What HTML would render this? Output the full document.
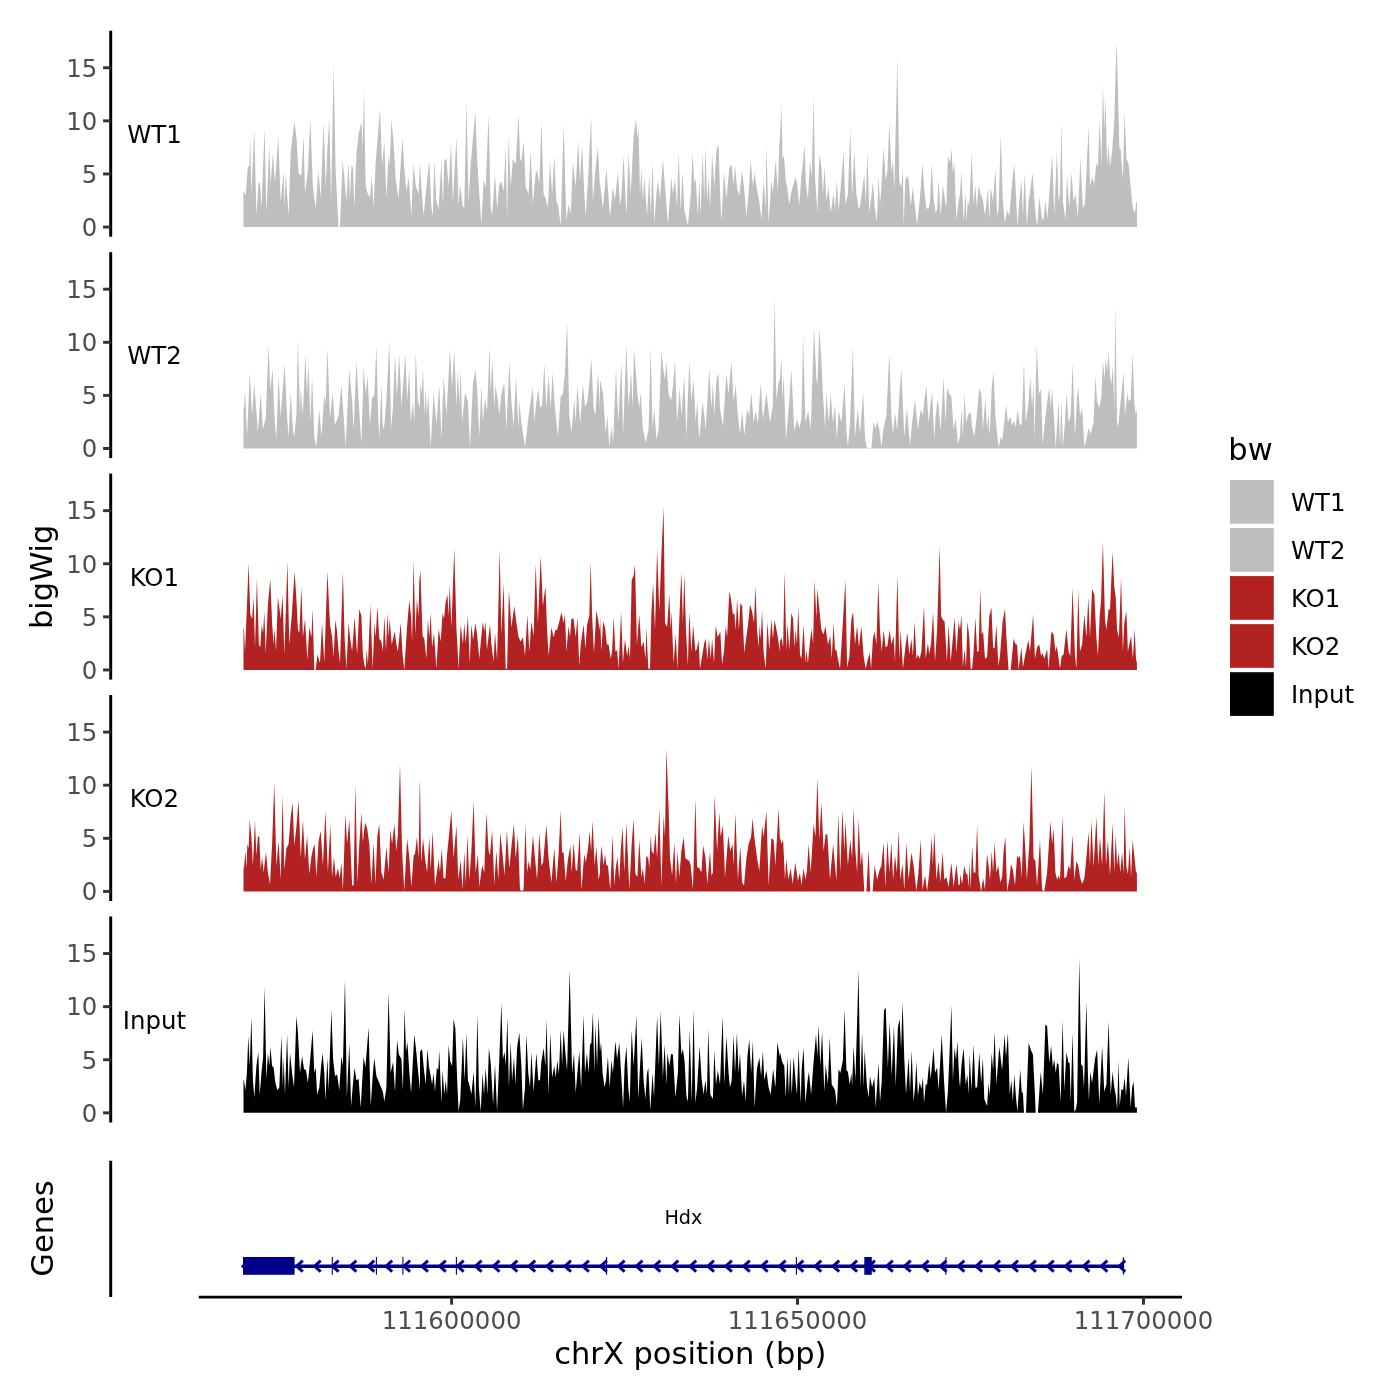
<!DOCTYPE html><html><head><meta charset="utf-8"><style>html,body{margin:0;padding:0;background:#fff;width:1400px;height:1400px;overflow:hidden}svg{display:block}text{font-family:"DejaVu Sans","Liberation Sans",sans-serif}.at{font-size:24.4px;fill:#4D4D4D}.lb{font-size:24.4px;fill:#000}.ti{font-size:30.5px;fill:#000}</style></head><body>
<svg width="1400" height="1400" viewBox="0 0 1400 1400">
<rect width="1400" height="1400" fill="#fff"/>
<path d="M243.5,227.1L243.5,191.4L244.0,191.4L245.7,195.7L247.9,165.7L249.3,167.1L250.3,136.4L251.4,194.3L254.3,128.6L256.4,215.7L258.6,182.9L260.0,182.9L261.4,208.6L264.6,128.6L266.4,212.9L269.3,146.4L270.7,184.3L272.9,152.9L275.0,182.9L278.3,136.4L280.7,201.4L283.6,172.1L284.6,207.1L285.7,172.9L288.6,215.7L290.7,152.9L294.3,121.4L296.4,136.4L298.6,172.9L301.4,175.7L303.6,135.0L305.0,194.3L307.9,170.0L310.3,118.6L312.9,187.1L315.7,208.6L318.3,170.7L320.7,197.1L323.6,121.4L325.7,187.1L327.4,148.6L329.3,117.9L331.1,201.4L333.6,64.3L335.7,172.9L338.6,227.1L340.0,227.1L342.6,160.0L344.3,177.1L346.4,201.4L348.6,162.9L350.0,198.6L351.4,165.7L352.9,167.1L354.3,207.9L356.4,154.3L358.6,134.3L361.4,121.4L362.6,147.1L364.0,90.0L365.7,187.1L367.9,194.3L370.0,197.1L371.7,177.1L373.6,207.1L375.7,161.4L380.0,109.3L382.1,165.7L384.3,141.4L386.4,198.6L388.6,154.3L389.7,167.1L391.4,119.3L393.6,142.9L395.7,180.0L398.6,198.6L400.7,164.3L402.6,137.9L404.3,168.6L406.4,191.4L408.6,177.1L411.4,215.7L413.6,163.6L415.7,185.7L418.6,194.3L420.0,161.4L421.4,187.1L423.6,215.7L426.4,187.1L429.3,160.7L431.4,208.6L432.9,215.7L434.3,160.0L436.4,201.4L438.6,208.6L441.4,160.7L442.9,205.7L444.3,160.7L446.4,158.6L448.6,187.1L451.1,142.9L452.9,201.4L456.4,137.1L458.6,205.7L460.0,184.3L462.9,207.1L464.3,207.1L466.4,101.4L468.6,201.4L470.7,164.3L472.9,138.6L475.4,111.4L477.1,158.6L479.3,194.3L481.4,224.3L483.6,180.0L485.7,187.1L488.6,114.3L490.7,208.6L492.1,215.7L495.0,174.3L497.1,208.6L499.3,184.3L501.4,181.4L503.6,191.4L505.7,147.1L507.1,220.0L508.6,135.7L510.7,187.1L512.9,158.6L515.7,164.3L518.6,114.3L520.0,158.6L521.4,161.4L523.6,141.4L525.7,187.1L528.6,194.3L530.7,150.0L532.9,204.3L535.7,172.9L537.1,170.0L539.3,184.3L541.4,121.4L543.6,194.3L545.7,198.6L547.9,207.1L550.0,161.4L552.1,194.3L554.3,155.7L556.4,201.4L557.9,204.3L560.7,225.7L563.6,124.3L566.4,220.0L568.6,204.3L570.7,214.3L572.9,162.9L575.7,187.1L578.3,140.0L580.0,181.4L582.1,144.3L584.3,194.3L585.7,215.7L587.9,182.9L591.1,115.7L592.9,201.4L595.0,172.9L597.9,147.1L600.0,187.1L600.0,182.9L602.9,208.6L606.4,168.6L610.0,217.1L612.9,187.1L615.0,200.0L617.9,171.4L620.0,205.7L621.4,195.7L623.6,155.7L626.4,215.7L628.6,152.1L630.7,194.3L633.6,137.1L636.0,118.6L637.4,138.6L638.6,128.6L640.0,195.7L641.4,167.9L642.9,201.4L644.3,177.1L647.1,215.7L649.3,174.3L650.7,214.3L652.6,161.4L654.3,222.9L656.4,194.3L657.9,180.0L660.0,198.6L662.9,159.3L665.0,187.1L667.9,224.3L671.4,177.1L672.9,194.3L675.0,178.6L677.1,207.1L678.6,152.1L680.7,210.0L682.6,171.4L684.3,210.0L687.9,225.7L690.7,195.7L692.6,152.9L694.3,184.3L695.7,178.6L697.9,215.7L699.3,178.6L700.7,215.7L702.6,152.1L704.3,198.6L705.4,144.3L707.1,201.4L708.6,177.1L710.0,208.6L712.1,154.3L714.3,187.1L716.4,150.0L718.6,144.3L720.0,191.4L721.4,221.4L724.0,172.1L726.4,198.6L729.3,168.6L731.4,164.3L733.6,184.3L735.0,165.0L737.1,188.6L739.3,195.7L742.1,170.7L744.3,190.0L746.4,215.7L748.6,194.3L750.7,160.0L752.9,187.1L754.3,172.9L757.1,190.0L759.3,201.4L761.4,220.0L763.6,180.0L765.7,208.6L766.4,144.3L768.6,222.9L771.4,180.0L772.9,192.9L775.7,160.0L777.9,191.4L779.3,142.9L780.0,140.0L780.0,138.6L781.4,104.3L782.6,158.6L784.0,155.7L785.7,180.0L787.1,187.1L789.3,204.3L791.4,191.4L793.6,184.3L795.4,177.1L797.1,182.9L799.3,205.7L801.4,175.7L802.9,162.9L804.6,144.3L805.7,180.0L807.9,200.0L810.0,160.0L811.7,177.1L813.6,95.7L815.0,177.1L817.4,212.9L819.3,154.3L821.4,167.1L822.9,194.3L824.6,167.1L826.4,201.4L828.6,187.1L830.7,212.9L833.6,192.9L835.0,210.0L836.9,180.0L838.6,211.4L840.7,187.1L843.6,151.4L845.4,204.3L847.9,194.3L850.3,128.6L852.1,197.1L854.3,151.4L856.4,194.3L858.6,208.6L860.0,207.1L862.6,187.1L864.3,174.3L865.7,202.9L867.4,151.4L869.3,212.9L871.4,197.1L872.9,181.4L875.0,210.0L876.9,221.4L878.6,175.7L880.0,204.3L881.4,187.1L883.6,147.1L885.7,180.0L887.4,171.4L889.3,122.9L891.4,172.9L892.9,160.0L894.3,190.0L897.4,56.4L899.3,181.4L901.4,187.1L902.9,168.6L903.6,225.7L905.4,180.0L907.1,175.7L908.6,180.0L910.7,205.7L912.9,187.1L915.0,207.1L917.1,224.3L919.3,204.3L920.7,188.6L922.4,163.6L924.3,190.0L926.4,208.6L928.6,208.6L930.0,201.4L931.7,162.9L933.6,198.6L935.7,212.9L937.1,208.6L938.6,180.0L940.7,215.7L942.9,184.3L945.0,201.4L946.4,207.1L947.9,155.7L950.0,162.9L951.4,148.6L952.9,172.9L954.3,161.4L956.4,220.0L958.6,201.4L960.0,194.3L960.0,194.3L961.4,171.4L963.6,221.4L965.7,191.4L966.4,221.4L967.9,200.0L969.3,205.7L971.7,152.9L973.6,205.7L975.4,184.3L976.9,208.6L978.6,185.7L980.7,194.3L982.9,200.0L985.0,215.7L987.9,188.6L989.3,220.0L990.7,187.1L992.9,201.4L995.4,168.6L997.1,215.7L998.6,208.6L1000.7,134.3L1002.9,201.4L1005.0,222.9L1007.1,210.0L1009.3,215.7L1012.1,182.9L1014.3,163.6L1016.0,194.3L1017.4,225.7L1019.3,201.4L1021.4,180.0L1022.9,215.7L1024.7,172.9L1026.9,225.7L1028.6,201.4L1030.7,187.1L1032.6,172.9L1035.0,208.6L1037.1,227.1L1039.3,197.1L1042.1,220.0L1043.6,218.6L1045.4,200.0L1047.4,218.6L1049.3,194.3L1052.1,154.3L1054.3,215.7L1056.9,150.0L1058.6,201.4L1060.0,194.3L1061.4,120.7L1062.9,201.4L1065.4,220.0L1067.1,175.7L1069.3,208.6L1071.4,172.1L1073.6,201.4L1075.7,194.3L1077.9,218.6L1080.3,158.6L1082.9,208.6L1085.0,202.9L1088.6,125.7L1090.0,187.1L1092.1,177.1L1094.3,184.3L1096.4,162.9L1097.9,167.1L1099.7,120.0L1101.4,165.7L1102.9,84.3L1104.3,130.0L1105.4,95.7L1107.1,165.7L1108.6,144.3L1110.0,167.1L1112.1,151.4L1114.3,121.4L1116.4,41.4L1117.9,87.1L1119.3,147.1L1120.7,150.0L1122.9,180.0L1124.6,111.4L1126.4,158.6L1128.6,164.3L1130.7,187.1L1132.9,208.6L1135.0,212.9L1136.4,201.4L1137.0,201.4L1137.0,227.1Z" fill="#BEBEBE"/>
<line x1="110.7" y1="30.70" x2="110.7" y2="236.70" stroke="#000" stroke-width="2.95"/>
<line x1="103.10" y1="227.05" x2="110.7" y2="227.05" stroke="#333" stroke-width="2.95"/>
<text class="at" x="97.3" y="235.85" text-anchor="end">0</text>
<line x1="103.10" y1="173.95" x2="110.7" y2="173.95" stroke="#333" stroke-width="2.95"/>
<text class="at" x="97.3" y="182.75" text-anchor="end">5</text>
<line x1="103.10" y1="120.85" x2="110.7" y2="120.85" stroke="#333" stroke-width="2.95"/>
<text class="at" x="97.3" y="129.65" text-anchor="end">10</text>
<line x1="103.10" y1="67.75" x2="110.7" y2="67.75" stroke="#333" stroke-width="2.95"/>
<text class="at" x="97.3" y="76.55" text-anchor="end">15</text>
<text class="lb" x="154.4" y="142.93" text-anchor="middle">WT1</text>
<path d="M243.5,448.5L243.5,408.1L244.0,408.1L245.0,390.3L247.1,436.7L249.7,372.4L252.1,415.3L254.3,383.1L257.9,432.4L260.7,392.4L262.9,429.6L265.7,418.1L268.6,345.3L270.3,391.0L272.6,368.1L274.3,415.3L276.4,439.6L278.6,376.0L280.7,416.7L284.6,363.9L287.1,416.7L288.6,436.7L290.7,392.4L292.9,429.6L294.3,436.7L296.4,415.3L297.9,339.6L300.0,415.3L300.7,388.1L302.9,415.3L305.4,352.4L306.9,393.9L308.6,362.4L310.3,422.4L312.1,376.7L314.3,436.7L316.4,446.7L319.3,409.6L321.4,436.7L324.3,395.3L325.7,403.9L327.4,348.1L330.0,418.1L332.6,392.4L335.0,425.3L338.6,415.3L341.4,385.3L343.6,415.3L345.7,446.7L349.3,368.9L352.1,401.0L353.6,429.6L356.4,361.0L358.6,401.0L361.4,443.9L363.6,366.7L365.7,393.9L367.6,375.3L370.0,425.3L372.1,398.1L374.3,395.3L376.4,345.3L377.9,408.1L379.3,439.6L381.4,384.6L382.9,429.6L384.3,425.3L386.4,401.0L389.3,341.0L391.1,429.6L392.9,408.1L395.0,353.9L396.9,396.7L399.3,353.9L401.4,406.7L404.3,369.6L405.4,353.9L407.1,401.0L409.3,369.6L410.7,422.4L412.9,402.4L414.3,422.4L415.7,352.4L417.9,401.0L420.0,408.1L420.0,382.4L421.4,393.9L423.1,369.6L424.3,415.3L425.7,388.1L426.9,415.3L428.3,393.9L430.7,448.1L433.6,392.4L436.4,423.9L439.3,385.3L441.4,439.6L443.6,376.0L446.4,415.3L450.0,349.6L452.1,388.1L454.3,349.6L456.4,405.3L457.9,369.6L459.3,405.3L460.7,369.6L462.1,422.4L465.0,392.4L467.9,401.0L470.0,448.1L472.9,383.9L475.4,369.6L477.1,388.1L479.3,436.7L481.4,385.3L482.9,422.4L485.0,398.1L487.1,411.0L489.6,345.3L490.7,393.9L492.4,359.6L494.3,408.1L495.4,385.3L497.9,401.0L499.3,415.3L501.4,393.9L504.3,382.4L506.4,429.6L509.3,362.4L511.4,401.0L513.6,426.7L516.1,376.0L518.3,429.6L519.3,401.0L521.4,422.4L525.0,446.7L528.6,415.3L532.9,386.7L534.3,422.4L535.7,408.1L538.3,388.1L540.0,408.1L542.1,405.3L544.3,363.9L546.4,408.1L548.6,375.3L550.7,408.1L552.6,372.4L555.0,408.1L557.9,436.7L560.7,396.7L562.9,393.9L565.0,372.4L567.1,321.0L569.3,415.3L571.4,432.4L574.3,399.6L575.7,422.4L577.4,384.6L580.3,423.9L582.9,383.9L585.0,406.7L587.1,402.4L589.3,383.9L591.4,358.1L593.6,408.1L595.4,415.3L597.9,372.4L600.0,408.1L600.0,379.6L603.1,393.9L605.7,433.9L607.4,415.3L609.3,446.7L611.4,426.7L613.1,442.4L616.0,369.6L618.3,422.4L621.4,362.4L623.1,435.3L626.4,343.9L628.6,408.1L631.1,371.0L632.6,408.1L634.0,349.6L635.7,369.6L637.4,393.9L639.3,408.1L640.7,392.4L642.9,429.6L645.7,442.4L648.6,429.6L650.7,348.1L652.6,429.6L654.3,408.1L656.4,439.6L658.6,429.6L661.4,351.0L663.1,368.1L665.0,379.6L666.4,361.0L668.6,393.9L671.1,401.0L672.9,386.7L675.0,359.6L677.1,422.4L679.7,388.1L681.4,415.3L684.3,376.7L686.4,436.7L689.3,361.0L691.4,401.0L693.6,379.6L695.7,422.4L697.1,401.0L699.3,439.6L702.6,401.0L705.7,429.6L709.3,368.1L711.4,408.1L712.9,382.4L714.3,415.3L716.4,381.0L718.3,372.4L720.0,408.1L722.9,426.7L726.4,373.9L728.6,393.9L731.4,361.0L733.6,401.0L735.7,385.3L737.9,415.3L740.0,433.9L742.1,411.0L744.3,435.3L747.1,409.6L749.3,415.3L751.4,392.4L753.6,422.4L755.7,411.0L757.9,423.9L760.7,382.4L762.9,419.6L766.4,392.4L770.0,422.4L772.9,405.3L774.6,296.7L776.4,399.6L778.6,382.4L780.0,379.6L780.0,379.6L781.4,356.7L782.6,401.0L783.6,373.9L786.0,439.6L789.3,401.0L791.4,369.6L794.3,431.0L797.1,419.6L799.3,428.1L801.4,419.6L803.1,335.3L805.4,422.4L808.3,411.0L810.7,429.6L814.0,328.1L816.4,379.6L817.4,385.3L819.3,328.1L821.4,359.6L822.9,393.9L825.0,428.1L826.4,392.4L828.6,422.4L830.7,393.9L832.9,422.4L835.0,405.3L836.9,439.6L838.6,411.0L841.4,422.4L844.6,383.9L846.4,431.0L847.9,446.7L850.0,422.4L852.9,346.7L855.0,436.7L857.9,408.1L860.0,433.9L863.1,392.4L865.0,436.7L866.4,446.7L868.6,448.5L871.4,448.1L873.6,421.0L875.4,429.6L877.1,421.0L879.3,429.6L881.4,446.7L883.6,428.1L886.4,415.3L889.3,352.4L891.4,415.3L892.9,433.9L895.0,412.4L897.1,429.6L899.3,396.7L901.4,368.9L904.3,436.7L906.9,408.1L910.0,445.3L912.1,422.4L915.0,399.6L917.9,429.6L920.7,409.6L922.9,415.3L924.3,401.0L926.4,386.0L928.6,422.4L932.1,391.0L934.3,439.6L935.7,415.3L937.9,398.1L940.7,431.0L943.6,376.7L945.4,422.4L947.1,388.1L949.3,393.9L951.4,396.7L953.6,429.6L955.7,418.1L957.9,443.9L960.0,436.7L960.0,436.7L961.4,408.1L962.9,436.7L964.6,392.4L966.0,422.4L968.6,413.9L970.7,412.4L972.1,426.7L974.3,436.7L976.4,419.6L979.3,388.1L981.4,395.3L982.9,429.6L985.4,398.1L987.1,429.6L988.6,412.4L989.7,436.7L991.7,388.1L993.6,371.0L995.4,416.7L997.4,436.7L998.9,448.1L1000.7,436.7L1002.1,441.0L1004.3,422.4L1006.0,403.9L1007.9,422.4L1010.3,416.7L1012.1,425.3L1014.0,421.0L1015.7,426.7L1017.6,409.6L1019.7,423.9L1021.7,425.3L1024.0,361.7L1025.7,422.4L1028.3,405.3L1030.4,376.7L1032.1,408.1L1033.6,382.4L1034.6,439.6L1036.7,344.6L1038.9,393.9L1041.1,389.6L1042.6,443.9L1044.6,425.3L1046.4,408.1L1049.3,386.7L1050.7,408.1L1052.1,388.1L1054.3,422.4L1055.7,448.1L1058.6,399.6L1060.0,446.7L1061.4,399.6L1062.9,446.7L1065.0,422.4L1066.4,392.4L1068.6,422.4L1070.7,415.3L1072.6,363.1L1075.0,436.7L1077.1,396.7L1078.3,386.7L1080.0,415.3L1082.1,408.1L1084.3,446.7L1086.4,439.6L1088.6,428.1L1090.7,433.9L1093.6,422.4L1095.4,376.0L1097.1,401.0L1099.3,408.1L1101.4,396.7L1102.9,361.0L1104.6,379.6L1105.7,356.7L1107.1,372.4L1108.3,351.0L1110.0,375.3L1111.4,383.9L1112.9,365.3L1114.3,408.1L1115.4,304.6L1117.1,426.7L1118.6,422.4L1120.0,408.1L1121.4,393.9L1123.6,372.4L1125.0,415.3L1127.4,392.4L1128.6,401.0L1130.7,399.6L1132.6,352.4L1134.3,401.0L1135.7,415.3L1136.9,408.1L1136.9,448.5Z" fill="#BEBEBE"/>
<line x1="110.7" y1="252.15" x2="110.7" y2="458.15" stroke="#000" stroke-width="2.95"/>
<line x1="103.10" y1="448.50" x2="110.7" y2="448.50" stroke="#333" stroke-width="2.95"/>
<text class="at" x="97.3" y="457.30" text-anchor="end">0</text>
<line x1="103.10" y1="395.40" x2="110.7" y2="395.40" stroke="#333" stroke-width="2.95"/>
<text class="at" x="97.3" y="404.20" text-anchor="end">5</text>
<line x1="103.10" y1="342.30" x2="110.7" y2="342.30" stroke="#333" stroke-width="2.95"/>
<text class="at" x="97.3" y="351.10" text-anchor="end">10</text>
<line x1="103.10" y1="289.20" x2="110.7" y2="289.20" stroke="#333" stroke-width="2.95"/>
<text class="at" x="97.3" y="298.00" text-anchor="end">15</text>
<text class="lb" x="154.4" y="364.38" text-anchor="middle">WT2</text>
<path d="M243.5,670.0L243.5,628.7L244.0,628.7L245.0,651.6L246.9,607.3L248.6,563.0L250.3,614.4L252.1,618.7L253.6,597.3L255.0,647.3L256.9,578.7L258.9,644.4L260.3,647.3L261.7,624.4L263.1,633.0L264.3,611.6L265.7,653.0L267.9,604.4L270.3,578.7L272.1,623.0L273.6,644.4L274.6,628.7L276.0,651.6L277.9,597.3L279.3,607.3L280.7,618.7L282.6,595.1L284.3,654.4L286.0,605.9L287.4,561.6L289.3,644.4L291.7,615.9L294.6,571.6L296.4,598.7L297.9,630.1L299.3,633.0L301.4,587.3L302.9,637.3L305.0,618.7L307.4,660.1L309.3,627.3L311.4,637.3L312.6,608.7L314.3,669.9L315.7,669.9L317.4,654.4L320.0,663.0L322.1,623.0L324.3,663.0L327.4,571.6L330.0,624.4L332.1,637.3L333.6,657.3L335.4,620.1L336.9,630.1L338.6,651.6L340.0,663.0L342.9,571.6L344.6,637.3L346.4,668.7L348.6,623.0L350.0,637.3L352.1,651.6L354.6,617.3L357.1,654.4L359.3,608.7L361.4,615.9L362.9,654.4L364.3,664.4L365.7,668.7L366.7,648.7L367.9,664.4L370.4,604.4L372.6,668.7L374.6,623.0L375.7,637.3L377.4,605.9L379.3,638.7L381.4,641.6L382.9,651.6L384.3,615.9L386.0,651.6L387.4,612.3L388.6,637.3L389.7,618.7L391.7,644.4L393.1,638.7L394.7,631.6L396.4,644.4L397.9,651.6L400.7,623.0L402.6,654.4L404.3,669.9L406.9,628.7L409.3,600.1L411.1,617.3L412.1,641.6L413.6,560.1L415.4,634.4L416.9,598.7L418.6,615.9L419.3,581.6L420.4,570.1L422.6,635.9L424.3,638.7L426.4,658.7L427.9,618.7L429.3,637.3L430.7,612.3L432.1,647.3L434.0,633.0L436.4,668.7L438.6,628.7L440.7,641.6L442.6,613.0L444.0,618.7L445.7,601.6L447.4,594.4L448.6,615.9L449.7,584.4L451.4,627.3L454.3,548.7L456.4,627.3L458.6,668.7L460.7,624.4L462.9,644.4L464.3,623.0L465.7,643.0L467.9,615.9L469.7,663.0L471.4,624.4L473.1,640.1L475.4,623.0L477.1,634.4L479.3,658.7L481.1,638.7L482.9,621.6L484.3,631.6L485.4,621.6L486.9,650.1L490.0,624.4L491.4,644.4L493.6,661.6L495.0,633.0L497.1,660.1L499.7,550.1L501.4,634.4L503.6,583.0L505.7,668.7L507.1,668.7L508.9,590.1L511.4,627.3L514.3,605.9L516.4,623.0L518.6,637.3L520.7,641.6L522.9,637.3L525.0,655.9L527.4,615.1L529.3,651.6L531.4,621.6L533.6,635.9L535.7,564.4L537.9,623.0L540.7,555.9L542.9,605.9L545.4,585.9L547.1,630.1L548.6,655.9L551.4,627.3L553.6,637.3L555.4,630.1L557.1,630.1L558.9,623.0L561.4,612.3L563.6,623.0L565.0,614.4L566.4,651.6L568.6,625.9L570.0,637.3L571.4,618.7L573.6,618.7L575.7,637.3L577.4,617.3L579.3,665.9L580.7,644.4L583.6,624.4L585.4,648.7L587.1,624.4L589.3,615.9L590.7,561.6L592.1,615.9L594.0,653.0L596.4,610.1L598.6,623.0L600.0,630.1L600.0,615.9L601.4,651.6L603.1,621.6L605.0,627.3L606.9,644.4L608.6,644.4L610.7,658.7L612.1,651.6L613.6,617.3L615.4,651.6L617.1,650.1L618.6,668.7L621.1,611.6L622.9,663.0L625.0,638.7L627.1,655.9L628.6,645.9L630.0,658.7L631.7,580.1L633.6,575.9L635.0,564.4L636.9,644.4L639.3,614.4L641.4,647.3L643.6,641.6L645.4,658.7L646.4,627.3L648.3,668.7L650.0,668.7L651.4,613.0L653.1,583.0L655.0,630.1L657.1,548.7L659.3,611.6L661.4,554.4L663.6,507.3L665.0,623.0L667.1,627.3L669.3,594.4L670.7,630.1L671.4,610.9L673.6,663.0L675.7,634.4L677.4,668.7L679.7,608.7L681.4,571.6L682.9,623.0L684.3,574.4L686.0,630.1L687.9,665.9L689.3,611.6L691.4,651.6L693.1,624.4L695.4,651.6L696.9,648.7L698.6,640.1L700.0,668.7L702.1,655.9L704.3,643.0L705.7,638.7L707.4,660.1L708.9,638.7L710.7,658.7L712.1,638.7L714.0,663.0L715.7,625.9L717.9,637.3L720.3,631.6L722.1,664.4L724.0,651.6L725.7,625.9L727.1,637.3L729.3,591.6L731.1,600.1L732.9,614.4L734.3,613.0L735.7,630.1L737.1,598.7L738.9,630.1L740.4,603.0L742.1,605.9L744.3,653.0L745.7,641.6L747.9,625.9L750.0,604.4L752.1,611.6L754.0,623.0L755.4,585.9L757.1,630.1L758.6,647.3L759.7,624.4L760.7,640.1L762.1,610.1L763.6,651.6L765.7,668.7L767.4,621.6L769.3,650.1L771.4,618.7L772.9,638.7L774.6,620.1L777.1,633.0L780.0,651.6L780.0,641.6L781.4,637.3L783.1,647.3L784.6,571.6L786.4,651.6L787.4,623.0L789.3,650.1L791.4,613.0L793.1,618.7L794.3,647.3L795.7,630.1L796.9,644.4L798.3,606.6L800.0,654.4L801.4,658.7L803.6,624.4L805.4,663.0L806.4,650.1L807.9,663.0L810.0,641.6L811.7,628.7L813.1,644.4L814.6,580.1L816.4,618.7L817.4,588.7L819.3,608.7L821.4,630.1L823.6,634.4L825.4,625.9L827.9,644.4L830.3,635.9L831.7,658.7L833.6,623.0L835.0,650.1L836.4,650.1L837.9,658.7L840.0,668.7L842.9,621.6L845.4,580.1L847.1,667.3L849.3,657.3L851.4,618.7L853.1,612.3L855.0,644.4L857.1,625.9L858.9,647.3L861.4,625.9L863.6,655.9L865.7,668.7L867.9,658.7L869.7,653.0L871.1,668.7L872.9,638.7L874.6,631.6L876.4,644.4L878.3,583.0L880.0,630.1L881.7,651.6L883.6,630.1L885.7,647.3L887.4,645.9L889.7,630.1L891.4,644.4L893.6,635.9L895.0,661.6L897.4,575.9L899.3,658.7L900.7,630.1L902.9,668.7L905.7,644.4L907.4,633.0L909.3,654.4L911.4,638.7L912.9,655.9L914.6,621.6L916.4,658.7L917.9,654.4L919.7,658.7L921.4,651.6L924.0,605.9L925.7,658.7L927.9,643.0L929.3,654.4L931.1,643.0L933.1,612.3L935.0,661.6L937.1,630.1L939.7,545.9L941.1,615.9L942.9,620.1L944.6,621.6L946.9,661.6L948.6,624.4L950.7,661.6L952.9,637.3L954.6,617.3L956.4,653.0L958.6,621.6L960.0,630.1L960.0,630.1L961.4,614.4L962.9,667.3L964.6,648.7L966.0,667.3L967.4,621.6L969.3,637.3L970.7,668.7L972.1,668.7L973.6,651.6L975.4,617.3L977.1,651.6L978.6,651.6L980.3,588.7L981.7,634.4L983.1,631.6L985.0,658.7L987.1,657.3L989.3,615.9L991.4,607.3L993.1,647.3L994.6,648.7L996.4,624.4L998.3,665.9L1000.0,655.9L1002.6,621.6L1005.0,608.7L1006.4,637.3L1008.6,669.9L1010.7,669.9L1013.6,638.7L1015.7,644.4L1017.1,644.4L1018.6,669.9L1021.4,647.3L1022.9,667.3L1025.0,655.9L1028.3,640.1L1030.0,651.6L1033.1,614.4L1035.0,658.7L1037.1,647.3L1039.3,644.4L1041.1,655.9L1042.6,653.0L1044.3,658.7L1046.0,653.0L1047.1,648.7L1048.6,668.7L1051.4,631.6L1053.6,634.4L1055.4,651.6L1056.9,645.9L1058.6,658.7L1060.0,668.7L1061.7,655.9L1063.6,654.4L1066.4,628.7L1068.6,651.6L1070.3,655.9L1072.6,587.3L1075.0,655.9L1076.4,668.7L1078.3,589.4L1080.0,651.6L1082.1,644.4L1084.3,614.4L1086.4,637.3L1088.3,597.3L1090.0,637.3L1092.1,588.7L1094.3,594.4L1096.4,637.3L1097.9,655.9L1099.7,615.9L1101.1,600.1L1102.9,541.6L1105.0,620.1L1106.4,630.1L1108.6,608.7L1110.0,610.1L1112.6,551.6L1114.3,587.3L1115.7,597.3L1117.1,630.1L1118.9,637.3L1121.1,577.3L1122.9,651.6L1124.3,623.0L1126.4,610.9L1127.9,651.6L1129.3,644.4L1131.1,635.9L1132.9,658.7L1134.6,628.7L1136.0,658.7L1136.9,663.0L1136.9,670.0Z" fill="#B22222"/>
<line x1="110.7" y1="473.60" x2="110.7" y2="679.60" stroke="#000" stroke-width="2.95"/>
<line x1="103.10" y1="669.95" x2="110.7" y2="669.95" stroke="#333" stroke-width="2.95"/>
<text class="at" x="97.3" y="678.75" text-anchor="end">0</text>
<line x1="103.10" y1="616.85" x2="110.7" y2="616.85" stroke="#333" stroke-width="2.95"/>
<text class="at" x="97.3" y="625.65" text-anchor="end">5</text>
<line x1="103.10" y1="563.75" x2="110.7" y2="563.75" stroke="#333" stroke-width="2.95"/>
<text class="at" x="97.3" y="572.55" text-anchor="end">10</text>
<line x1="103.10" y1="510.65" x2="110.7" y2="510.65" stroke="#333" stroke-width="2.95"/>
<text class="at" x="97.3" y="519.45" text-anchor="end">15</text>
<text class="lb" x="154.4" y="585.83" text-anchor="middle">KO1</text>
<path d="M243.5,891.4L243.5,868.3L244.0,868.3L245.4,851.1L246.4,868.3L247.4,844.0L248.6,848.3L249.7,819.7L251.4,836.9L252.9,865.4L255.0,820.4L256.4,855.4L257.9,836.1L259.3,836.9L260.7,869.7L262.1,856.9L263.6,872.6L266.0,851.9L267.9,872.6L270.0,884.0L272.1,844.0L274.3,782.6L276.4,865.4L278.6,841.1L280.7,879.7L282.6,795.4L284.3,869.7L286.4,848.3L288.6,844.0L290.7,816.9L292.6,802.6L294.3,845.4L296.4,826.9L298.6,799.7L300.7,858.3L302.9,819.7L305.0,859.7L307.1,835.4L309.3,874.0L311.4,856.9L313.1,848.3L314.6,844.0L316.4,876.9L318.6,841.1L320.7,831.1L322.9,865.4L325.4,811.1L327.9,872.6L330.3,824.7L332.1,876.9L334.0,856.9L335.7,876.9L337.9,868.3L339.7,878.3L341.4,862.6L342.9,891.1L345.4,814.0L347.1,844.0L349.3,819.7L352.1,885.4L353.6,885.4L355.4,784.0L357.4,882.6L359.3,844.0L361.4,812.6L362.9,842.6L365.0,822.6L367.1,828.3L369.3,844.0L371.4,884.0L373.6,842.6L375.4,884.0L377.4,835.4L379.3,824.0L381.4,872.6L383.6,879.7L386.4,846.9L388.6,872.6L390.3,829.7L392.1,844.0L394.3,824.0L396.4,851.1L397.9,834.0L400.0,764.0L402.1,851.1L404.3,891.1L407.1,838.3L409.3,856.9L411.4,886.9L413.6,855.4L415.0,854.0L416.9,836.9L418.6,858.3L419.7,786.9L420.0,779.7L421.1,862.6L423.1,838.3L425.0,858.3L427.1,872.6L429.3,836.9L430.7,869.7L432.6,831.1L435.0,885.4L436.9,872.6L438.6,859.7L440.0,872.6L441.7,848.3L443.6,878.3L445.4,878.3L447.1,854.0L449.3,832.6L451.4,810.4L453.6,858.3L456.4,825.4L458.3,879.7L460.7,859.7L462.6,889.7L464.3,851.1L465.7,884.0L467.4,834.7L469.3,879.7L471.4,851.1L473.6,801.1L475.7,872.6L477.9,854.0L479.3,886.9L482.1,865.4L484.3,872.6L486.4,812.6L488.6,851.1L490.0,855.4L492.1,829.7L494.3,884.0L496.4,851.1L498.3,879.7L500.3,832.6L502.9,858.3L504.6,875.4L506.9,830.4L509.3,868.3L511.4,846.9L513.9,824.0L515.7,858.3L517.9,835.4L520.0,889.7L521.7,891.1L523.6,889.7L525.4,824.0L527.1,872.6L528.6,861.1L530.3,869.7L532.9,835.4L535.0,858.3L537.1,879.7L539.3,832.6L541.4,865.4L543.1,862.6L546.4,824.7L548.6,858.3L551.4,882.6L554.3,848.3L556.4,882.6L558.6,854.0L560.7,810.4L562.1,852.6L563.6,852.6L565.7,881.1L567.9,859.7L570.3,845.4L571.7,872.6L573.6,842.6L575.7,869.7L577.1,871.1L579.7,832.6L581.4,889.7L584.3,854.0L585.7,862.6L587.9,849.7L589.7,831.1L591.1,851.1L592.6,820.4L594.6,865.4L596.4,846.9L598.6,879.7L600.0,872.6L600.0,865.4L601.4,845.4L603.6,865.4L605.0,854.0L606.4,865.4L607.9,865.4L610.3,889.7L612.6,834.7L614.3,885.4L615.7,868.3L617.4,856.9L619.3,879.7L620.7,851.1L622.6,826.9L624.3,872.6L626.4,822.6L629.3,889.7L631.7,844.0L633.6,819.0L635.4,874.0L637.4,876.9L639.3,839.7L641.4,876.9L642.9,868.3L644.6,884.0L646.4,855.4L648.3,858.3L649.3,868.3L650.7,835.4L651.7,851.1L653.6,854.0L655.4,832.6L657.1,858.3L659.3,808.3L661.4,885.4L663.6,815.4L665.0,836.9L666.4,748.3L668.6,808.3L670.0,858.3L672.1,875.4L674.3,842.6L676.0,884.0L677.4,851.1L679.3,876.9L681.4,851.1L683.6,836.9L685.4,858.3L687.4,859.7L689.3,861.1L690.7,865.4L692.9,889.7L695.4,799.0L697.1,866.9L699.3,868.3L701.4,872.6L703.1,845.4L705.4,856.9L707.4,884.0L710.0,851.1L711.4,875.4L712.9,872.6L714.6,795.4L717.1,851.1L719.3,812.6L720.7,836.9L722.9,825.4L725.0,876.9L728.3,835.4L730.3,851.1L732.6,844.0L733.6,865.4L735.4,813.3L737.9,879.7L740.3,845.4L742.1,882.6L744.0,885.4L746.4,858.3L748.6,844.0L751.1,836.9L752.6,818.3L754.3,836.9L757.1,858.3L759.3,871.1L762.1,825.4L763.6,836.9L766.4,811.1L768.6,885.4L771.4,838.3L773.6,839.7L775.4,865.4L778.6,808.3L780.0,841.1L780.0,836.9L781.4,844.0L783.1,839.7L785.0,879.7L786.4,858.3L788.3,879.7L790.7,868.3L792.6,884.0L795.4,862.6L797.9,881.1L800.0,872.6L801.4,885.4L803.6,868.3L805.4,879.7L806.9,871.1L808.6,844.0L810.7,872.6L813.6,824.0L815.4,836.9L817.4,778.3L819.3,839.7L821.4,802.6L823.6,851.1L825.7,834.0L827.4,834.7L830.0,879.7L833.1,844.0L836.4,881.1L838.3,814.0L840.3,872.6L842.4,809.7L844.3,851.1L845.4,821.1L847.9,865.4L850.3,839.7L852.1,858.3L853.6,808.3L855.0,845.4L857.1,872.6L858.6,819.0L860.7,865.4L862.1,851.1L864.3,891.4L866.4,891.4L868.6,849.7L870.3,891.4L872.6,891.4L874.6,865.4L877.1,879.7L879.3,871.1L881.4,865.4L883.6,842.6L885.4,886.9L887.4,839.7L889.3,872.6L891.4,842.6L893.1,879.7L895.0,855.4L896.9,872.6L898.6,830.4L900.3,879.7L902.6,864.0L904.3,889.7L906.4,842.6L908.6,879.7L911.4,852.6L913.6,865.4L916.4,891.1L918.3,874.0L920.7,839.7L922.6,889.7L925.0,875.4L927.1,891.1L929.3,872.6L931.7,836.9L932.9,865.4L934.3,831.1L936.4,879.7L938.6,861.1L940.3,882.6L942.6,852.6L944.3,879.7L946.4,876.9L948.6,886.9L951.4,862.6L953.6,886.9L956.4,864.0L958.6,885.4L960.0,884.0L960.0,874.0L962.1,884.0L964.3,865.4L966.0,874.0L967.4,874.0L968.6,886.9L969.7,861.1L970.7,889.7L972.1,845.4L973.6,872.6L975.4,872.6L977.1,824.7L978.6,875.4L981.1,891.4L983.1,878.3L985.0,889.7L986.9,854.0L988.6,865.4L990.0,879.7L991.7,851.1L993.1,872.6L994.6,842.6L996.4,872.6L998.3,865.4L1000.3,882.6L1002.1,876.9L1003.6,851.1L1005.4,836.9L1007.1,891.1L1009.3,879.7L1011.1,864.0L1012.9,869.7L1015.0,885.4L1017.1,855.4L1018.6,858.3L1020.0,855.4L1021.7,876.9L1023.6,821.9L1025.0,844.0L1026.9,879.7L1029.3,844.0L1031.4,766.1L1033.6,858.3L1035.4,861.1L1037.1,885.4L1040.0,839.7L1042.1,889.7L1044.3,891.4L1047.1,872.6L1050.4,821.1L1052.1,844.0L1053.6,828.3L1055.4,872.6L1057.1,879.7L1058.6,875.4L1060.0,879.7L1062.6,816.1L1064.3,878.3L1066.4,876.9L1068.6,865.4L1070.3,869.7L1072.6,834.7L1074.3,879.7L1076.4,861.1L1078.3,865.4L1080.0,876.9L1082.1,884.0L1084.3,878.3L1085.7,865.4L1088.6,831.9L1090.0,865.4L1091.4,819.7L1093.6,866.9L1096.4,816.9L1098.3,865.4L1100.0,836.9L1102.1,865.4L1104.3,791.1L1106.0,865.4L1107.9,839.7L1110.0,875.4L1112.6,823.3L1114.3,872.6L1115.7,834.7L1117.1,865.4L1118.6,852.6L1120.3,872.6L1122.1,852.6L1123.6,874.0L1124.6,805.4L1126.4,866.9L1127.9,874.0L1129.7,846.9L1131.1,876.9L1132.6,839.7L1134.3,855.4L1136.0,872.6L1136.9,872.6L1136.9,891.4Z" fill="#B22222"/>
<line x1="110.7" y1="695.05" x2="110.7" y2="901.05" stroke="#000" stroke-width="2.95"/>
<line x1="103.10" y1="891.40" x2="110.7" y2="891.40" stroke="#333" stroke-width="2.95"/>
<text class="at" x="97.3" y="900.20" text-anchor="end">0</text>
<line x1="103.10" y1="838.30" x2="110.7" y2="838.30" stroke="#333" stroke-width="2.95"/>
<text class="at" x="97.3" y="847.10" text-anchor="end">5</text>
<line x1="103.10" y1="785.20" x2="110.7" y2="785.20" stroke="#333" stroke-width="2.95"/>
<text class="at" x="97.3" y="794.00" text-anchor="end">10</text>
<line x1="103.10" y1="732.10" x2="110.7" y2="732.10" stroke="#333" stroke-width="2.95"/>
<text class="at" x="97.3" y="740.90" text-anchor="end">15</text>
<text class="lb" x="154.4" y="807.27" text-anchor="middle">KO2</text>
<path d="M243.5,1112.8L243.5,1080.3L244.0,1080.3L245.4,1090.3L246.9,1073.1L248.3,1036.0L249.7,1066.0L251.4,1016.7L252.9,1080.3L254.3,1097.4L256.4,1066.0L258.3,1051.7L259.7,1094.6L261.7,1070.3L263.1,1057.4L264.6,986.7L266.4,1078.9L267.9,1053.1L269.3,1066.0L270.4,1046.7L272.1,1066.0L273.6,1067.4L275.4,1083.1L277.4,1090.3L279.3,1087.4L281.4,1036.0L282.9,1087.4L283.6,1056.7L285.0,1094.6L287.1,1033.9L288.6,1087.4L290.0,1053.1L292.1,1073.1L294.0,1087.4L296.4,1016.0L297.9,1032.4L300.0,1073.1L302.1,1056.0L304.0,1068.9L306.0,1070.3L307.9,1083.1L310.0,1061.7L312.6,1030.3L314.3,1073.1L315.7,1067.4L317.1,1094.6L319.3,1087.4L321.1,1066.0L322.6,1053.1L324.3,1073.1L325.4,1100.3L327.4,1057.4L328.6,1090.3L331.4,1010.3L333.1,1058.9L335.0,1076.0L337.1,1074.6L339.3,1090.3L341.4,1056.0L342.9,1066.0L345.0,978.9L346.9,1097.4L349.3,1043.1L351.1,1106.0L352.9,1084.6L354.6,1067.4L356.4,1080.3L358.6,1078.9L360.7,1107.4L363.6,1056.7L365.4,1067.4L368.6,1027.4L370.7,1106.0L372.9,1073.1L374.3,1058.1L376.4,1076.0L379.3,1083.1L382.9,1091.7L384.3,1101.7L386.4,1087.4L388.6,992.4L390.7,1073.1L393.1,1061.7L395.0,1091.7L397.1,1040.3L398.9,1054.6L401.4,1058.9L402.9,1090.3L404.6,1009.6L406.0,1051.7L407.4,1041.7L409.3,1071.7L411.1,1093.1L412.6,1066.0L414.3,1034.6L416.0,1048.9L418.3,1073.1L420.0,1090.3L420.0,1051.7L422.1,1048.9L424.0,1070.3L425.7,1084.6L427.4,1048.9L428.9,1066.0L430.7,1076.0L432.1,1084.6L433.6,1073.1L435.0,1091.7L436.9,1067.4L438.3,1070.3L439.3,1050.3L441.4,1103.1L442.6,1070.3L444.3,1094.6L445.7,1080.3L447.1,1094.6L448.6,1045.3L450.3,1061.7L452.1,1066.0L453.6,1018.9L455.4,1028.9L456.9,1073.1L458.6,1111.7L460.3,1098.9L462.9,1037.4L464.6,1080.3L466.4,1033.1L467.9,1080.3L469.3,1084.6L471.4,1094.6L473.6,1071.7L475.4,1107.4L477.4,1014.6L478.9,1087.4L480.7,1111.7L482.6,1073.1L484.0,1094.6L485.7,1068.1L487.4,1094.6L488.9,1048.1L490.7,1063.1L493.1,1104.6L495.0,1064.6L497.1,1111.7L499.3,1058.9L501.4,1003.1L502.9,1058.9L504.6,1051.7L505.7,1066.0L507.4,1018.1L508.9,1087.4L510.7,1041.7L512.1,1080.3L514.0,1057.4L515.4,1084.6L517.1,1047.4L519.3,1032.4L521.4,1066.0L522.9,1110.3L525.0,1087.4L526.4,1034.6L528.3,1073.1L530.0,1087.4L531.4,1051.7L533.6,1091.7L536.4,1053.1L538.3,1080.3L540.0,1080.3L541.4,1061.7L543.6,1048.1L545.4,1066.0L546.4,1018.9L548.6,1094.6L550.3,1032.4L552.1,1077.4L554.3,1066.0L555.7,1077.4L557.4,1060.3L558.9,1074.6L560.7,1029.6L562.1,1064.6L563.6,1030.3L565.4,1053.1L567.1,1070.3L569.7,970.3L572.1,1073.1L574.0,1053.1L575.7,1093.1L577.1,1076.0L579.3,1051.0L581.1,1087.4L583.6,1014.6L585.0,1073.1L586.9,1053.1L588.6,1073.1L590.0,1044.6L591.4,1043.1L592.9,1012.4L594.3,1073.1L595.4,1024.6L597.1,1066.0L598.6,1016.0L600.0,1051.7L600.0,1051.7L601.1,1041.7L602.6,1073.1L604.6,1087.4L606.0,1080.3L607.9,1056.7L609.7,1087.4L611.4,1060.3L612.9,1073.1L615.4,1041.0L617.1,1058.9L619.3,1042.4L621.1,1073.1L623.1,1107.4L624.6,1066.0L626.4,1046.0L628.3,1087.4L629.7,1101.7L631.7,1030.3L633.6,1066.0L636.4,1016.0L638.3,1098.9L640.0,1066.0L641.7,1038.1L643.6,1080.3L645.4,1098.9L646.9,1074.6L648.3,1067.4L650.3,1110.3L652.6,1073.1L654.0,1097.4L657.1,1016.0L658.9,1066.0L660.7,1011.0L662.9,1077.4L664.6,1044.6L666.4,1084.6L667.4,1053.1L669.3,1066.0L671.1,1053.9L672.9,1054.6L675.4,1097.4L677.9,1073.1L679.4,1014.6L681.4,1054.6L682.9,1048.9L684.6,1061.7L686.4,1096.0L687.9,1101.7L689.7,1028.9L691.7,1101.7L693.6,1009.6L695.4,1103.1L697.1,1087.4L699.6,1046.0L701.7,1080.3L703.6,1094.6L705.4,1080.3L706.9,1094.6L708.3,1028.9L710.3,1094.6L712.9,1098.9L714.3,1050.3L716.0,1084.6L717.9,1070.3L720.0,1084.6L722.6,1016.0L724.3,1084.6L726.4,1036.0L728.6,1073.1L730.0,1087.4L731.7,1080.3L733.6,1034.6L735.0,1073.1L736.9,1033.1L738.6,1073.1L740.0,1053.1L742.1,1096.0L744.0,1080.3L745.7,1101.7L747.4,1056.7L749.3,1038.9L751.1,1073.1L752.9,1041.0L754.6,1107.4L756.9,1068.9L759.3,1057.4L761.1,1076.0L762.9,1051.0L764.3,1080.3L766.4,1070.3L768.6,1087.4L770.7,1094.6L773.1,1068.9L775.4,1087.4L777.4,1042.4L780.0,1057.4L780.0,1051.7L782.1,1061.7L784.3,1066.0L785.7,1097.4L787.4,1056.7L788.9,1094.6L790.3,1056.7L791.7,1094.6L793.6,1056.7L795.4,1078.9L796.9,1094.6L798.6,1048.1L800.7,1103.1L801.7,1068.9L803.6,1048.1L805.4,1103.1L807.4,1081.7L808.9,1071.7L811.1,1094.6L813.6,1061.7L816.0,1034.6L817.4,1056.0L818.6,1024.6L820.3,1066.0L822.1,1031.7L824.3,1091.7L825.7,1064.6L827.9,1084.6L829.7,1037.4L831.7,1084.6L833.6,1087.4L835.0,1090.3L836.9,1106.0L838.6,1068.9L840.3,1073.1L842.9,1060.3L844.6,1008.9L846.4,1070.3L847.9,1071.7L849.7,1084.6L851.4,1073.1L852.1,1086.0L853.6,1046.0L855.4,1080.3L858.6,970.3L860.3,1087.4L862.1,1032.4L863.6,1087.4L864.6,1050.3L866.9,1086.0L868.6,1097.4L870.0,1076.0L872.1,1087.4L874.3,1077.4L875.7,1107.4L878.6,1062.4L880.0,1101.7L881.7,1081.7L884.0,1010.3L885.7,1007.4L887.9,1067.4L889.7,1021.7L891.7,1076.0L894.0,1026.0L895.7,1086.0L897.9,1027.4L899.7,1018.9L901.1,1048.9L902.6,1001.7L904.3,1058.9L906.0,1094.6L908.6,1057.4L910.0,1091.7L911.7,1050.3L913.6,1101.7L915.0,1087.4L916.4,1061.7L917.9,1096.0L919.7,1081.7L921.4,1088.9L922.9,1077.4L924.0,1103.1L925.7,1084.6L927.1,1084.6L929.3,1061.7L930.7,1078.9L933.6,1048.1L935.0,1073.1L937.1,1067.4L938.6,1090.3L941.7,1034.6L944.0,1080.3L946.0,1112.8L947.9,1091.7L949.3,1058.9L951.4,1005.3L952.9,1080.3L954.6,1047.4L956.0,1060.3L957.4,1041.0L959.3,1080.3L960.0,1087.4L961.4,1066.0L963.6,1048.1L965.7,1084.6L967.4,1074.6L968.6,1094.6L969.7,1053.9L971.4,1090.3L973.6,1044.6L975.4,1087.4L977.1,1087.4L979.3,1052.4L981.1,1083.1L982.9,1058.1L984.3,1098.9L987.1,1106.0L988.6,1083.1L989.7,1096.0L991.7,1053.1L993.1,1070.3L994.6,1031.7L996.4,1084.6L999.3,1046.7L1002.1,1070.3L1004.6,1034.6L1006.0,1057.4L1007.9,1032.4L1009.7,1094.6L1011.4,1080.3L1012.9,1101.7L1014.3,1074.6L1016.0,1097.4L1017.4,1111.7L1020.3,1069.6L1021.7,1091.7L1022.9,1093.1L1024.0,1112.8L1026.0,1112.8L1028.6,1043.1L1030.7,1049.6L1032.9,1054.6L1034.6,1087.4L1035.7,1112.8L1037.9,1112.8L1040.7,1071.7L1042.9,1094.6L1045.4,1024.6L1047.1,1026.0L1049.3,1063.1L1051.1,1045.3L1052.9,1067.4L1054.3,1058.9L1055.7,1073.1L1057.1,1063.1L1058.6,1064.6L1060.7,1101.7L1062.6,1020.3L1064.3,1090.3L1066.4,1052.4L1068.6,1063.1L1069.7,1063.1L1070.7,1101.7L1072.6,1032.4L1074.3,1111.7L1076.0,1108.9L1077.1,1101.7L1079.3,958.1L1081.1,1064.6L1082.6,1066.0L1084.0,1087.4L1086.4,1001.7L1087.9,1073.1L1088.9,1100.3L1090.3,1071.7L1092.1,1083.1L1095.0,1058.9L1097.1,1049.6L1099.3,1104.6L1102.1,1046.0L1104.3,1091.7L1106.4,1084.6L1108.6,1021.0L1110.7,1094.6L1112.6,1071.7L1114.3,1087.4L1115.7,1094.6L1117.1,1108.9L1118.6,1061.0L1119.7,1106.0L1121.4,1088.9L1123.1,1090.3L1124.6,1077.4L1126.0,1096.0L1128.3,1057.4L1130.7,1107.4L1132.1,1087.4L1133.6,1081.7L1135.0,1107.4L1136.9,1107.4L1136.9,1112.8Z" fill="#000000"/>
<line x1="110.7" y1="916.50" x2="110.7" y2="1122.50" stroke="#000" stroke-width="2.95"/>
<line x1="103.10" y1="1112.85" x2="110.7" y2="1112.85" stroke="#333" stroke-width="2.95"/>
<text class="at" x="97.3" y="1121.65" text-anchor="end">0</text>
<line x1="103.10" y1="1059.75" x2="110.7" y2="1059.75" stroke="#333" stroke-width="2.95"/>
<text class="at" x="97.3" y="1068.55" text-anchor="end">5</text>
<line x1="103.10" y1="1006.65" x2="110.7" y2="1006.65" stroke="#333" stroke-width="2.95"/>
<text class="at" x="97.3" y="1015.45" text-anchor="end">10</text>
<line x1="103.10" y1="953.55" x2="110.7" y2="953.55" stroke="#333" stroke-width="2.95"/>
<text class="at" x="97.3" y="962.35" text-anchor="end">15</text>
<text class="lb" x="154.4" y="1028.72" text-anchor="middle">Input</text>
<text class="ti" transform="translate(52,576.8) rotate(-90)" text-anchor="middle">bigWig</text>
<line x1="110.7" y1="1160.75" x2="110.7" y2="1297" stroke="#000" stroke-width="2.95"/>
<text class="ti" transform="translate(52.5,1228.5) rotate(-90)" text-anchor="middle">Genes</text>
<line x1="198.75" y1="1297.1" x2="1182" y2="1297.1" stroke="#000" stroke-width="2.95"/>
<line x1="451.6" y1="1297.1" x2="451.6" y2="1304.70" stroke="#333" stroke-width="2.95"/>
<text class="at" x="451.6" y="1328.5" text-anchor="middle">111600000</text>
<line x1="797.5" y1="1297.1" x2="797.5" y2="1304.70" stroke="#333" stroke-width="2.95"/>
<text class="at" x="797.5" y="1328.5" text-anchor="middle">111650000</text>
<line x1="1143.5" y1="1297.1" x2="1143.5" y2="1304.70" stroke="#333" stroke-width="2.95"/>
<text class="at" x="1143.5" y="1328.5" text-anchor="middle">111700000</text>
<text class="ti" x="690.4" y="1363.9" text-anchor="middle">chrX position (bp)</text>
<text x="683.4" y="1223.9" text-anchor="middle" style="font-size:19.2px;fill:#000">Hdx</text>
<line x1="243" y1="1266.2" x2="1122.5" y2="1266.2" stroke="#00008B" stroke-width="3.4" stroke-linecap="round"/>
<rect x="243" y="1257" width="51.6" height="17.8" fill="#00008B"/>
<rect x="864.3" y="1257" width="7.5" height="17.8" fill="#00008B"/>
<line x1="332.3" y1="1257" x2="332.3" y2="1274.8" stroke="#00008B" stroke-width="1.1"/>
<line x1="376.4" y1="1257" x2="376.4" y2="1274.8" stroke="#00008B" stroke-width="1.1"/>
<line x1="402.9" y1="1257" x2="402.9" y2="1274.8" stroke="#00008B" stroke-width="1.1"/>
<line x1="456.4" y1="1257" x2="456.4" y2="1274.8" stroke="#00008B" stroke-width="1.1"/>
<line x1="606.6" y1="1257" x2="606.6" y2="1274.8" stroke="#00008B" stroke-width="1.1"/>
<line x1="796.4" y1="1257" x2="796.4" y2="1274.8" stroke="#00008B" stroke-width="1.1"/>
<line x1="945.9" y1="1257" x2="945.9" y2="1274.8" stroke="#00008B" stroke-width="1.1"/>
<path d="M302.8,1260.7L296.6,1266.2L302.8,1271.7" fill="none" stroke="#00008B" stroke-width="2.9" stroke-linejoin="miter" stroke-miterlimit="10"/>
<path d="M320.7,1260.7L314.5,1266.2L320.7,1271.7" fill="none" stroke="#00008B" stroke-width="2.9" stroke-linejoin="miter" stroke-miterlimit="10"/>
<path d="M338.6,1260.7L332.4,1266.2L338.6,1271.7" fill="none" stroke="#00008B" stroke-width="2.9" stroke-linejoin="miter" stroke-miterlimit="10"/>
<path d="M356.4,1260.7L350.2,1266.2L356.4,1271.7" fill="none" stroke="#00008B" stroke-width="2.9" stroke-linejoin="miter" stroke-miterlimit="10"/>
<path d="M374.3,1260.7L368.1,1266.2L374.3,1271.7" fill="none" stroke="#00008B" stroke-width="2.9" stroke-linejoin="miter" stroke-miterlimit="10"/>
<path d="M392.2,1260.7L386.0,1266.2L392.2,1271.7" fill="none" stroke="#00008B" stroke-width="2.9" stroke-linejoin="miter" stroke-miterlimit="10"/>
<path d="M410.1,1260.7L403.9,1266.2L410.1,1271.7" fill="none" stroke="#00008B" stroke-width="2.9" stroke-linejoin="miter" stroke-miterlimit="10"/>
<path d="M428.0,1260.7L421.8,1266.2L428.0,1271.7" fill="none" stroke="#00008B" stroke-width="2.9" stroke-linejoin="miter" stroke-miterlimit="10"/>
<path d="M445.8,1260.7L439.6,1266.2L445.8,1271.7" fill="none" stroke="#00008B" stroke-width="2.9" stroke-linejoin="miter" stroke-miterlimit="10"/>
<path d="M463.7,1260.7L457.5,1266.2L463.7,1271.7" fill="none" stroke="#00008B" stroke-width="2.9" stroke-linejoin="miter" stroke-miterlimit="10"/>
<path d="M481.6,1260.7L475.4,1266.2L481.6,1271.7" fill="none" stroke="#00008B" stroke-width="2.9" stroke-linejoin="miter" stroke-miterlimit="10"/>
<path d="M499.5,1260.7L493.3,1266.2L499.5,1271.7" fill="none" stroke="#00008B" stroke-width="2.9" stroke-linejoin="miter" stroke-miterlimit="10"/>
<path d="M517.4,1260.7L511.2,1266.2L517.4,1271.7" fill="none" stroke="#00008B" stroke-width="2.9" stroke-linejoin="miter" stroke-miterlimit="10"/>
<path d="M535.2,1260.7L529.0,1266.2L535.2,1271.7" fill="none" stroke="#00008B" stroke-width="2.9" stroke-linejoin="miter" stroke-miterlimit="10"/>
<path d="M553.1,1260.7L546.9,1266.2L553.1,1271.7" fill="none" stroke="#00008B" stroke-width="2.9" stroke-linejoin="miter" stroke-miterlimit="10"/>
<path d="M571.0,1260.7L564.8,1266.2L571.0,1271.7" fill="none" stroke="#00008B" stroke-width="2.9" stroke-linejoin="miter" stroke-miterlimit="10"/>
<path d="M588.9,1260.7L582.7,1266.2L588.9,1271.7" fill="none" stroke="#00008B" stroke-width="2.9" stroke-linejoin="miter" stroke-miterlimit="10"/>
<path d="M606.8,1260.7L600.6,1266.2L606.8,1271.7" fill="none" stroke="#00008B" stroke-width="2.9" stroke-linejoin="miter" stroke-miterlimit="10"/>
<path d="M624.6,1260.7L618.4,1266.2L624.6,1271.7" fill="none" stroke="#00008B" stroke-width="2.9" stroke-linejoin="miter" stroke-miterlimit="10"/>
<path d="M642.5,1260.7L636.3,1266.2L642.5,1271.7" fill="none" stroke="#00008B" stroke-width="2.9" stroke-linejoin="miter" stroke-miterlimit="10"/>
<path d="M660.4,1260.7L654.2,1266.2L660.4,1271.7" fill="none" stroke="#00008B" stroke-width="2.9" stroke-linejoin="miter" stroke-miterlimit="10"/>
<path d="M678.3,1260.7L672.1,1266.2L678.3,1271.7" fill="none" stroke="#00008B" stroke-width="2.9" stroke-linejoin="miter" stroke-miterlimit="10"/>
<path d="M696.2,1260.7L690.0,1266.2L696.2,1271.7" fill="none" stroke="#00008B" stroke-width="2.9" stroke-linejoin="miter" stroke-miterlimit="10"/>
<path d="M714.0,1260.7L707.8,1266.2L714.0,1271.7" fill="none" stroke="#00008B" stroke-width="2.9" stroke-linejoin="miter" stroke-miterlimit="10"/>
<path d="M731.9,1260.7L725.7,1266.2L731.9,1271.7" fill="none" stroke="#00008B" stroke-width="2.9" stroke-linejoin="miter" stroke-miterlimit="10"/>
<path d="M749.8,1260.7L743.6,1266.2L749.8,1271.7" fill="none" stroke="#00008B" stroke-width="2.9" stroke-linejoin="miter" stroke-miterlimit="10"/>
<path d="M767.7,1260.7L761.5,1266.2L767.7,1271.7" fill="none" stroke="#00008B" stroke-width="2.9" stroke-linejoin="miter" stroke-miterlimit="10"/>
<path d="M785.6,1260.7L779.4,1266.2L785.6,1271.7" fill="none" stroke="#00008B" stroke-width="2.9" stroke-linejoin="miter" stroke-miterlimit="10"/>
<path d="M803.4,1260.7L797.2,1266.2L803.4,1271.7" fill="none" stroke="#00008B" stroke-width="2.9" stroke-linejoin="miter" stroke-miterlimit="10"/>
<path d="M821.3,1260.7L815.1,1266.2L821.3,1271.7" fill="none" stroke="#00008B" stroke-width="2.9" stroke-linejoin="miter" stroke-miterlimit="10"/>
<path d="M839.2,1260.7L833.0,1266.2L839.2,1271.7" fill="none" stroke="#00008B" stroke-width="2.9" stroke-linejoin="miter" stroke-miterlimit="10"/>
<path d="M857.1,1260.7L850.9,1266.2L857.1,1271.7" fill="none" stroke="#00008B" stroke-width="2.9" stroke-linejoin="miter" stroke-miterlimit="10"/>
<path d="M875.0,1260.7L868.8,1266.2L875.0,1271.7" fill="none" stroke="#00008B" stroke-width="2.9" stroke-linejoin="miter" stroke-miterlimit="10"/>
<path d="M892.8,1260.7L886.6,1266.2L892.8,1271.7" fill="none" stroke="#00008B" stroke-width="2.9" stroke-linejoin="miter" stroke-miterlimit="10"/>
<path d="M910.7,1260.7L904.5,1266.2L910.7,1271.7" fill="none" stroke="#00008B" stroke-width="2.9" stroke-linejoin="miter" stroke-miterlimit="10"/>
<path d="M928.6,1260.7L922.4,1266.2L928.6,1271.7" fill="none" stroke="#00008B" stroke-width="2.9" stroke-linejoin="miter" stroke-miterlimit="10"/>
<path d="M946.5,1260.7L940.3,1266.2L946.5,1271.7" fill="none" stroke="#00008B" stroke-width="2.9" stroke-linejoin="miter" stroke-miterlimit="10"/>
<path d="M964.4,1260.7L958.2,1266.2L964.4,1271.7" fill="none" stroke="#00008B" stroke-width="2.9" stroke-linejoin="miter" stroke-miterlimit="10"/>
<path d="M982.2,1260.7L976.0,1266.2L982.2,1271.7" fill="none" stroke="#00008B" stroke-width="2.9" stroke-linejoin="miter" stroke-miterlimit="10"/>
<path d="M1000.1,1260.7L993.9,1266.2L1000.1,1271.7" fill="none" stroke="#00008B" stroke-width="2.9" stroke-linejoin="miter" stroke-miterlimit="10"/>
<path d="M1018.0,1260.7L1011.8,1266.2L1018.0,1271.7" fill="none" stroke="#00008B" stroke-width="2.9" stroke-linejoin="miter" stroke-miterlimit="10"/>
<path d="M1035.9,1260.7L1029.7,1266.2L1035.9,1271.7" fill="none" stroke="#00008B" stroke-width="2.9" stroke-linejoin="miter" stroke-miterlimit="10"/>
<path d="M1053.8,1260.7L1047.6,1266.2L1053.8,1271.7" fill="none" stroke="#00008B" stroke-width="2.9" stroke-linejoin="miter" stroke-miterlimit="10"/>
<path d="M1071.6,1260.7L1065.4,1266.2L1071.6,1271.7" fill="none" stroke="#00008B" stroke-width="2.9" stroke-linejoin="miter" stroke-miterlimit="10"/>
<path d="M1089.5,1260.7L1083.3,1266.2L1089.5,1271.7" fill="none" stroke="#00008B" stroke-width="2.9" stroke-linejoin="miter" stroke-miterlimit="10"/>
<path d="M1107.4,1260.7L1101.2,1266.2L1107.4,1271.7" fill="none" stroke="#00008B" stroke-width="2.9" stroke-linejoin="miter" stroke-miterlimit="10"/>
<path d="M1125.3,1260.7L1119.1,1266.2L1125.3,1271.7" fill="none" stroke="#00008B" stroke-width="2.9" stroke-linejoin="miter" stroke-miterlimit="10"/>
<line x1="1123.4" y1="1257.3" x2="1123.4" y2="1274.6" stroke="#00008B" stroke-width="1.3"/>
<text class="ti" x="1228.3" y="459.8">bw</text>
<rect x="1230" y="480.00" width="43.8" height="43.7" fill="#BEBEBE"/>
<text class="lb" x="1290.9" y="510.60">WT1</text>
<rect x="1230" y="528.05" width="43.8" height="43.7" fill="#BEBEBE"/>
<text class="lb" x="1290.9" y="558.65">WT2</text>
<rect x="1230" y="576.10" width="43.8" height="43.7" fill="#B22222"/>
<text class="lb" x="1290.9" y="606.70">KO1</text>
<rect x="1230" y="624.15" width="43.8" height="43.7" fill="#B22222"/>
<text class="lb" x="1290.9" y="654.75">KO2</text>
<rect x="1230" y="672.20" width="43.8" height="43.7" fill="#000000"/>
<text class="lb" x="1290.9" y="702.80">Input</text>
</svg></body></html>
